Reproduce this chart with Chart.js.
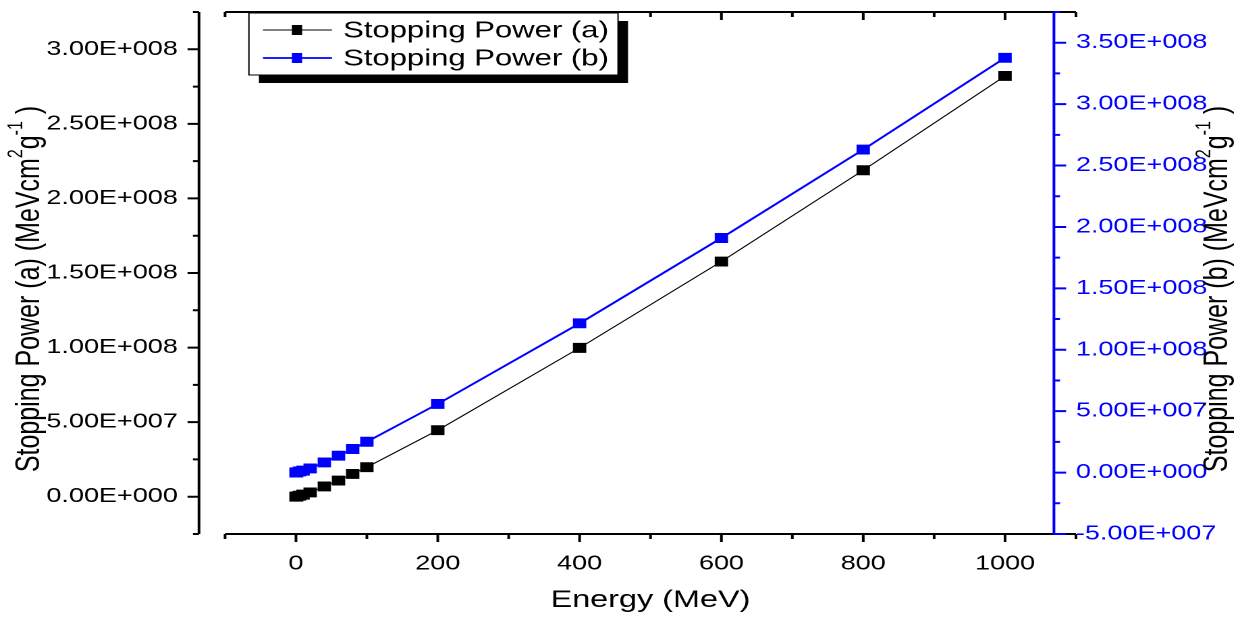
<!DOCTYPE html>
<html>
<head>
<meta charset="utf-8">
<script src="https://cdn.jsdelivr.net/npm/chart.js@4.4.1/dist/chart.umd.min.js"></script>
<style>
  html, body { margin: 0; padding: 0; background: #fff; overflow: hidden; }
  /* the figure is stretched sideways, like the exported original */
  #wrap { width: 924.44px; height: 619px; transform: scaleX(1.35); transform-origin: 0 0; }
</style>
</head>
<body>
<div id="wrap"><canvas id="chart"></canvas></div>
<script>
// values
const energy = [0.1, 1, 5, 10, 20, 40, 60, 80, 100, 200, 400, 600, 800, 1000]
const powerA = [0.02e6, 0.15e6, 0.7e6, 1.4e6, 2.9e6, 6.9e6, 10.8e6, 15.3e6, 19.8e6, 44.6e6, 99.8e6, 157.7e6, 218.9e6, 282.1e6]
const powerB = [0.02e6, 0.2e6, 0.9e6, 1.6e6, 3.4e6, 8.3e6, 13.8e6, 19.2e6, 25.1e6, 55.9e6, 121.5e6, 191e6, 263e6, 337.7e6]
const seriesNames = ["Stopping Power (a)", "Stopping Power (b)"]
const seriesColors = ["#000000", "#0000ff"]

const FONT = "'Liberation Sans', Arial, sans-serif"

// 3.00E+008 style labels
const sci = (v) => {
    if (Math.abs(v) < 1) return "0.00E+000"
    const e = Math.floor(Math.log10(Math.abs(v)) + 1e-9)
    const m = v / Math.pow(10, e)
    return m.toFixed(2) + "E" + (e < 0 ? "-" : "+") + String(Math.abs(e)).padStart(3, "0")
}
const onStep = (v, step) => Math.abs(v / step - Math.round(v / step)) < 1e-6

// draws the offset Origin-style axes, the y titles and the legend
const originFrame = {
    id: "originFrame",
    afterDraw(chart) {
        const ctx = chart.ctx
        const ca = chart.chartArea
        const {x, y, y2} = chart.scales
        ctx.save()
        ctx.lineWidth = 2
        ctx.strokeStyle = "#000"

        // top and bottom frame lines with their ticks
        ctx.beginPath()
        ctx.moveTo(ca.left, ca.bottom); ctx.lineTo(ca.right, ca.bottom)
        ctx.moveTo(ca.left, ca.top); ctx.lineTo(ca.right, ca.top)
        x.ticks.forEach(t => {
            const px = x.getPixelForValue(t.value)
            const len = onStep(t.value, 200) ? 8 : 5
            ctx.moveTo(px, ca.bottom); ctx.lineTo(px, ca.bottom + len)
            ctx.moveTo(px, ca.top); ctx.lineTo(px, ca.top + len)
        })
        ctx.stroke()

        // left axis, set off from the frame
        const xl = ca.left - 19.3
        ctx.beginPath()
        ctx.moveTo(xl, ca.top); ctx.lineTo(xl, ca.bottom)
        y.ticks.forEach(t => {
            const py = y.getPixelForValue(t.value)
            const len = onStep(t.value, 5e7) ? 8.5 : 4.5
            ctx.moveTo(xl, py); ctx.lineTo(xl - len, py)
        })
        ctx.stroke()

        // right blue axis
        const xr = ca.right - 16.3
        ctx.strokeStyle = seriesColors[1]
        ctx.beginPath()
        ctx.moveTo(xr, ca.top); ctx.lineTo(xr, ca.bottom)
        y2.ticks.forEach(t => {
            const py = y2.getPixelForValue(t.value)
            const len = onStep(t.value, 5e7) ? 9 : 4.5
            ctx.moveTo(xr, py); ctx.lineTo(xr + len, py)
        })
        ctx.stroke()

        // y titles, read bottom to top, with superscripts
        const yTitle = (cx, cy, name) => {
            const parts = [[name + " (MeVcm", false], ["2", true], ["g", false], ["-1", true], [" )", false]]
            const big = "25px " + FONT, small = "16px " + FONT
            let w = 0
            parts.forEach(p => { ctx.font = p[1] ? small : big; w += ctx.measureText(p[0]).width })
            ctx.save()
            ctx.translate(cx, cy)
            ctx.rotate(-Math.PI / 2)
            ctx.fillStyle = "#000"
            ctx.textBaseline = "middle"
            ctx.textAlign = "left"
            let pos = -w / 2
            parts.forEach(p => {
                ctx.font = p[1] ? small : big
                ctx.fillText(p[0], pos, p[1] ? -10 : 0)
                pos += ctx.measureText(p[0]).width
            })
            ctx.restore()
        }
        yTitle(22, 289, "Stopping Power (a)")
        yTitle(902, 289, "Stopping Power (b)")

        // legend box with drop shadow
        const lx = 184.4, ly = 13, lw = 273.4, lh = 62
        ctx.fillStyle = "#000"
        ctx.fillRect(lx + 7.4, ly + 8, lw, lh)
        ctx.fillStyle = "#fff"
        ctx.fillRect(lx, ly, lw, lh)
        ctx.lineWidth = 1
        ctx.strokeStyle = "#000"
        ctx.strokeRect(lx, ly, lw, lh)
        chart.data.datasets.forEach((ds, i) => {
            const ry = 30 + i * 28
            ctx.strokeStyle = ds.borderColor
            ctx.lineWidth = ds.borderWidth
            ctx.beginPath()
            ctx.moveTo(194.8, ry); ctx.lineTo(245.9, ry)
            ctx.stroke()
            ctx.fillStyle = ds.backgroundColor
            ctx.fillRect(220 - 3.8, ry - 5, 7.6, 10)
            ctx.fillStyle = "#000"
            ctx.font = "23px " + FONT
            ctx.textBaseline = "middle"
            ctx.textAlign = "left"
            ctx.fillText(ds.label, 254.1, ry + 1)
        })
        ctx.restore()
    }
}

const toPoints = (vals) => energy.map((e, i) => ({x: e, y: vals[i]}))

// hidden tick marks are used only to push the labels away from the frame
const myChart = new Chart(document.getElementById("chart"), {
    type: "line",
    plugins: [originFrame],
    data: {
        datasets: [
            {
                label: seriesNames[0],
                data: toPoints(powerA),
                yAxisID: "y",
                borderColor: seriesColors[0],
                backgroundColor: seriesColors[0],
                borderWidth: 1,
                pointStyle: "rect",
                pointRadius: 7,
                pointBorderWidth: 0,
                tension: 0
            },
            {
                label: seriesNames[1],
                data: toPoints(powerB),
                yAxisID: "y2",
                borderColor: seriesColors[1],
                backgroundColor: seriesColors[1],
                borderWidth: 1.8,
                pointStyle: "rect",
                pointRadius: 7,
                pointBorderWidth: 0,
                tension: 0
            }
        ]
    },
    options: {
        responsive: true,
        maintainAspectRatio: false,
        animation: false,
        devicePixelRatio: 2,
        layout: {padding: {top: 11, left: 0, right: 0, bottom: 0}},
        plugins: {
            legend: {display: false},
            tooltip: {enabled: false}
        },
        scales: {
            x: {
                type: "linear",
                position: "bottom",
                min: -100,
                max: 1100,
                grid: {display: false, drawTicks: true, tickLength: 18},
                border: {display: false},
                ticks: {
                    stepSize: 100,
                    autoSkip: false,
                    maxRotation: 0,
                    padding: 0,
                    color: "#000",
                    font: {family: FONT, size: 20},
                    callback: (v) => (v >= 0 && v <= 1000 && onStep(v, 200)) ? String(v) : ""
                },
                title: {
                    display: true,
                    text: "Energy (MeV)",
                    color: "#000",
                    font: {family: FONT, size: 24},
                    padding: {top: 0, bottom: 4}
                },
                afterFit: (s) => { s.height = 85 }
            },
            y: {
                type: "linear",
                position: "left",
                min: -2.5e7,
                max: 3.25e8,
                grid: {display: false, drawTicks: true, tickLength: 35},
                border: {display: false},
                ticks: {
                    stepSize: 2.5e7,
                    autoSkip: false,
                    padding: 0,
                    color: "#000",
                    font: {family: FONT, size: 20},
                    callback: (v) => (v >= 0 && onStep(v, 5e7)) ? sci(v) : ""
                },
                afterFit: (s) => { s.width = 166.7 }
            },
            y2: {
                type: "linear",
                position: "right",
                min: -5e7,
                max: 3.75e8,
                grid: {display: false, drawTicks: false},
                border: {display: false},
                ticks: {
                    stepSize: 2.5e7,
                    autoSkip: false,
                    padding: 0,
                    color: seriesColors[1],
                    font: {family: FONT, size: 20},
                    callback: (v) => (v <= 3.5e8 && onStep(v, 5e7)) ? sci(v) : ""
                },
                afterFit: (s) => { s.width = 127.4 }
            }
        }
    }
})
</script>
</body>
</html>
